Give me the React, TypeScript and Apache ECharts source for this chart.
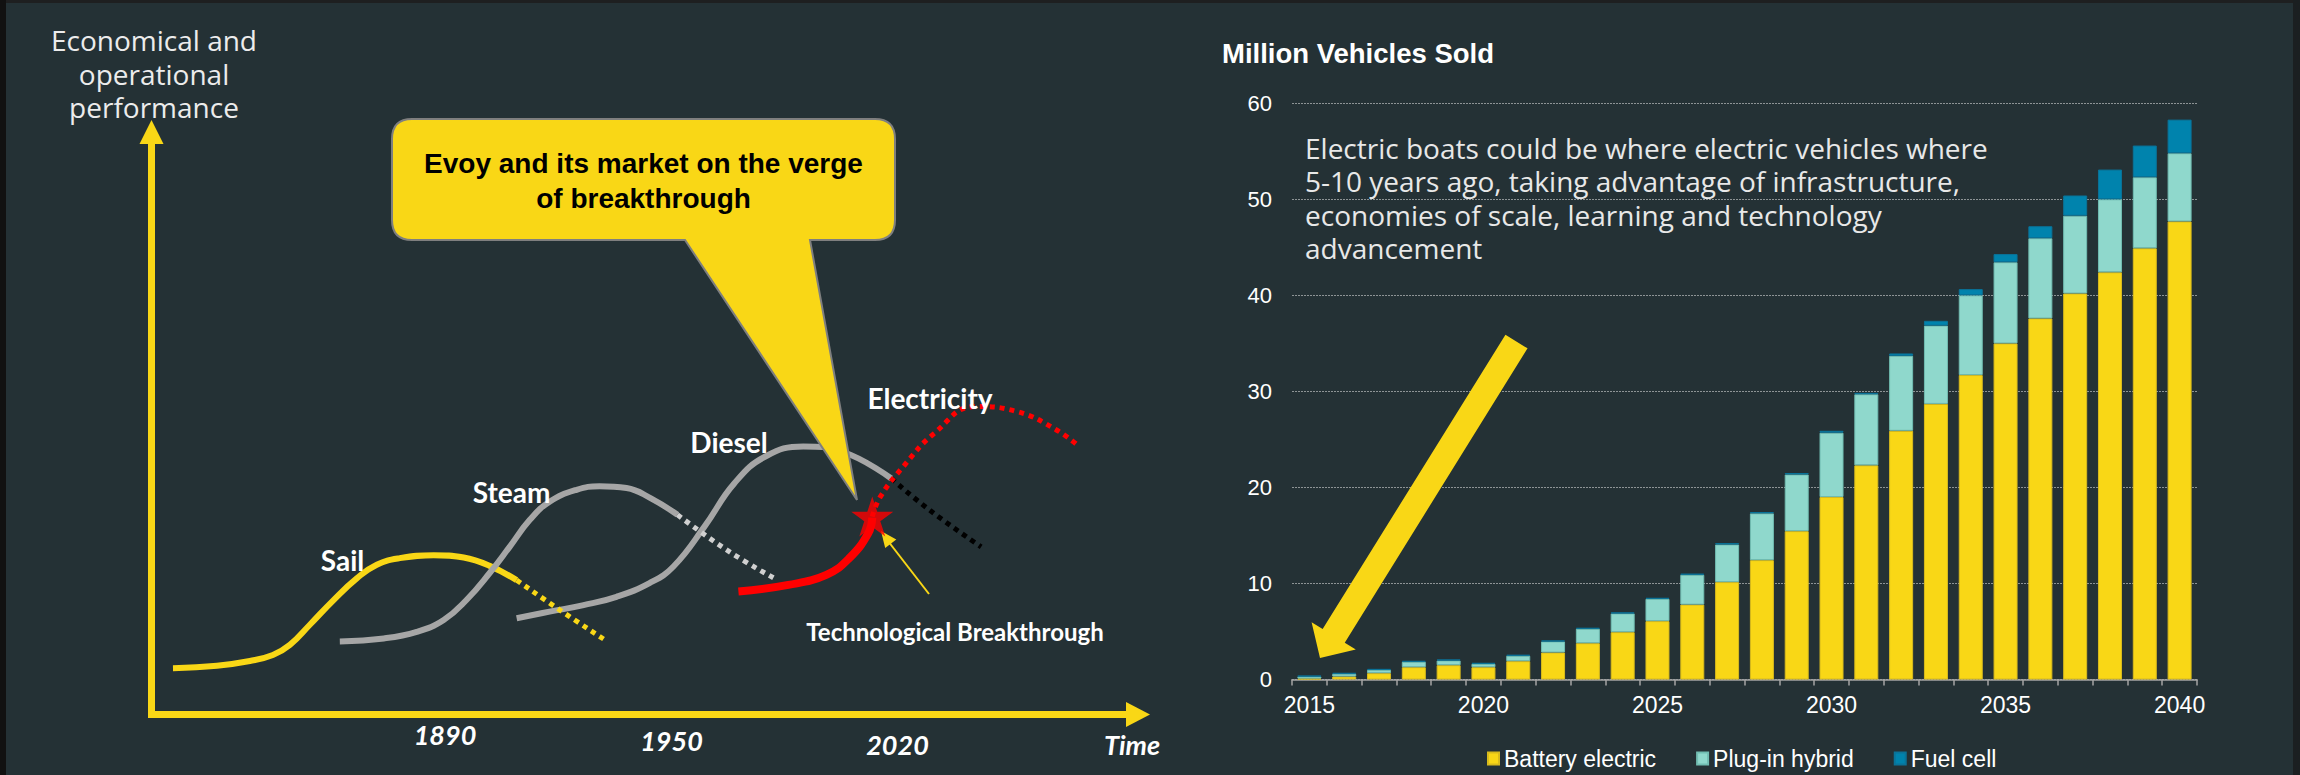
import React, { useEffect, useRef } from 'react';
import * as echarts from 'echarts';

// ---------- Right chart data (million vehicles sold) ----------
const years = ['2015', '2016', '2017', '2018', '2019', '2020', '2021', '2022', '2023', '2024', '2025', '2026', '2027', '2028', '2029', '2030', '2031', '2032', '2033', '2034', '2035', '2036', '2037', '2038', '2039', '2040'];
const batteryElectric = [0.1, 0.31, 0.66, 1.28, 1.49, 1.28, 1.91, 2.81, 3.78, 4.93, 6.08, 7.8, 10.14, 12.43, 15.45, 19.0, 22.3, 25.9, 28.7, 31.7, 35.0, 37.6, 40.2, 42.4, 44.9, 47.7];
const plugInHybrid = [0.22, 0.28, 0.34, 0.56, 0.49, 0.35, 0.56, 1.15, 1.5, 1.95, 2.32, 3.1, 3.92, 4.87, 5.9, 6.7, 7.4, 7.8, 8.15, 8.3, 8.45, 8.35, 8.1, 7.6, 7.4, 7.1];
const fuelCell = [0.07, 0.1, 0.1, 0.1, 0.1, 0.1, 0.1, 0.1, 0.1, 0.1, 0.1, 0.12, 0.14, 0.14, 0.15, 0.2, 0.15, 0.25, 0.5, 0.65, 0.85, 1.25, 2.1, 3.1, 3.3, 3.5];
const yMin = 0;
const yMax = 60;
const yStep = 10;

// ---------- Left chart: conceptual S-curves (time 0-100, performance 0-100) ----------
const sailSolid = [[2.2, 7.8], [6.6, 8.2], [9.9, 9.0], [12.2, 10.0], [13.9, 11.7], [15.9, 15.1], [18.3, 19.3], [20.6, 22.9], [22.6, 25.2], [24.9, 26.3], [28.3, 26.8], [31.3, 26.4], [33.9, 25.0], [36.6, 22.6]];
const sailFading = [[36.6, 22.6], [40.9, 17.6], [45.3, 12.7]];
const steamSolid = [[18.9, 12.3], [23.3, 12.8], [26.6, 13.9], [29.3, 15.9], [31.6, 19.3], [33.9, 23.8], [35.9, 28.2], [37.9, 32.7], [39.9, 35.8], [42.6, 37.8], [44.9, 38.4], [47.6, 38.1], [50.0, 36.4], [52.7, 33.6]];
const steamFading = [[52.7, 33.6], [57.7, 27.6], [62.3, 23.0]];
const dieselSolid = [[36.6, 16.2], [39.9, 17.3], [43.3, 18.4], [46.6, 19.8], [49.9, 22.1], [52.3, 24.9], [55.4, 31.6], [58.4, 38.9], [61.5, 43.4], [65.3, 45.1], [69.2, 44.2], [74.1, 39.7]];
const dieselFading = [[74.1, 39.7], [78.0, 34.3], [83.1, 28.2]];
const electricSolid = [[58.8, 20.7], [63.8, 21.8], [67.6, 23.5], [69.9, 26.3], [71.8, 30.5], [72.2, 33.1]];
const electricProjected = [[72.2, 33.3], [73.0, 36.6], [75.3, 41.7], [78.4, 47.3], [82.5, 51.8], [86.8, 50.9], [90.6, 47.9], [92.9, 45.1]];
const breakthroughPoint = [[72.2, 33.3]];

const YELLOW = '#F9D716';
const TEAL = '#8FD8CC';
const BLUE = '#0083AD';
const GREY = '#a6a6a6';

const calloutPath =
  'M412 119 L875 119 Q895 119 895 139 L895 220 Q895 240 875 240 L810 240 L857 500 L685 240 L412 240 Q392 240 392 220 L392 139 Q392 119 412 119 Z';
try {
  echarts.graphic.registerShape('callout', echarts.graphic.extendPath(calloutPath, {}));
} catch (e) {
  /* already registered */
}

const starPath =
  'path://M50 0 L61.23 34.55 L97.55 34.55 L68.16 55.9 L79.39 90.45 L50 69.1 L20.61 90.45 L31.84 55.9 L2.45 34.55 L38.77 34.55 Z';

function leftLine(name: string, data: number[][], color: string, width: number, dashed: boolean, z = 3) {
  return {
    name,
    type: 'line',
    xAxisIndex: 0,
    yAxisIndex: 0,
    data,
    smooth: 0.45,
    showSymbol: false,
    symbol: 'none',
    silent: true,
    z,
    lineStyle: { color, width, type: dashed ? [5, 5] : 'solid', cap: 'butt' },
  };
}

function txt(text: string, x: number, y: number, font: string, fill = '#ffffff', align = 'center', extra: any = {}) {
  return {
    type: 'text',
    x,
    y,
    z: 12,
    silent: true,
    style: { text, font, fill, align, verticalAlign: 'middle', ...extra },
  };
}

export default function App() {
  const ref = useRef<HTMLDivElement>(null);

  useEffect(() => {
    if (!ref.current) return;
    const chart = echarts.init(ref.current, null, { renderer: 'svg', width: 2300, height: 775 });

    const graphics: any[] = [
      // frame strips
      { type: 'rect', shape: { x: 0, y: 0, width: 2300, height: 3 }, style: { fill: '#1e1f20' }, z: 50, silent: true },
      { type: 'rect', shape: { x: 0, y: 0, width: 6, height: 775 }, style: { fill: '#111111' }, z: 50, silent: true },
      { type: 'rect', shape: { x: 2293, y: 0, width: 7, height: 775 }, style: { fill: '#1b1f21' }, z: 50, silent: true },
      // left axes
      { type: 'rect', shape: { x: 148, y: 141, width: 7, height: 577 }, style: { fill: YELLOW }, z: 5, silent: true },
      { type: 'polygon', shape: { points: [[151.5, 120], [139.5, 144], [163.5, 144]] }, style: { fill: YELLOW }, z: 5, silent: true },
      { type: 'rect', shape: { x: 148, y: 711, width: 980, height: 7 }, style: { fill: YELLOW }, z: 5, silent: true },
      { type: 'polygon', shape: { points: [[1150, 714.5], [1126, 702], [1126, 727]] }, style: { fill: YELLOW }, z: 5, silent: true },
      // left y title
      {
        type: 'text', x: 154, y: 23.5, z: 12, silent: true,
        style: { text: 'Economical and\noperational\nperformance', font: '28px "Open Sans"', fill: '#ececec', align: 'center', verticalAlign: 'top', lineHeight: 33.5 },
      },
      // time labels
      txt('1890', 445, 734, 'italic bold 27px Lato'),
      txt('1950', 671.5, 740, 'italic bold 27px Lato'),
      txt('2020', 897.5, 744, 'italic bold 27px Lato'),
      txt('Time', 1132, 744, 'italic bold 27px Lato'),
      // curve labels
      txt('Sail', 342.5, 560, 'bold 28px Lato'),
      txt('Steam', 511.5, 492, 'bold 28px Lato'),
      txt('Diesel', 729, 442, 'bold 28px Lato'),
      txt('Electricity', 930, 398, 'bold 28px Lato'),
      txt('Technological Breakthrough', 955, 631, 'bold 24px Lato'),
      // breakthrough pointer
      { type: 'line', shape: { x1: 929, y1: 594, x2: 888, y2: 541 }, style: { stroke: YELLOW, lineWidth: 2 }, z: 12, silent: true },
      { type: 'polygon', shape: { points: [[881, 531], [896.3, 539.4], [885.2, 548]] }, style: { fill: YELLOW }, z: 12, silent: true },
      // callout
      { type: 'callout', x: 0, y: 0, z: 10, silent: true, style: { fill: YELLOW, stroke: '#7f7f7f', lineWidth: 2 } },
      {
        type: 'text', x: 643.5, y: 145.5, z: 12, silent: true,
        style: { text: 'Evoy and its market on the verge\nof breakthrough', font: 'bold 28px "Liberation Sans"', fill: '#000000', align: 'center', verticalAlign: 'top', lineHeight: 35 },
      },
      // right title
      txt('Million Vehicles Sold', 1222, 53, 'bold 27.5px "Liberation Sans"', '#ffffff', 'left'),
      // right annotation
      {
        type: 'text', x: 1305, y: 131, z: 12, silent: true,
        style: {
          text: 'Electric boats could be where electric vehicles where\n5-10 years ago, taking advantage of infrastructure,\neconomies of scale, learning and technology\nadvancement',
          font: '28px "Open Sans"', fill: '#e8e8e8', align: 'left', verticalAlign: 'top', lineHeight: 33.5,
        },
      },
      // big arrow
      {
        type: 'polygon', z: 10, silent: true,
        shape: { points: [[1320, 658], [1355.8, 649.6], [1344.75, 642.74], [1527.55, 348.34], [1505.45, 334.66], [1322.65, 629.06], [1311.6, 622.2]] },
        style: { fill: YELLOW },
      },
    ];

    const option: any = {
      animation: false,
      backgroundColor: '#243135',
      textStyle: { fontFamily: '"Liberation Sans", Arial, sans-serif' },
      grid: [
        { left: 151, top: 120, width: 999, height: 594.5 },
        { left: 1292, top: 103.3, width: 905, height: 576.2 },
      ],
      xAxis: [
        { gridIndex: 0, type: 'value', min: 0, max: 100, show: false },
        {
          gridIndex: 1, type: 'category', data: years,
          axisLine: { show: true, lineStyle: { color: '#a5a5a5', width: 1.5 } },
          axisTick: { show: true, interval: 0, length: 6, lineStyle: { color: '#a5a5a5', width: 1.5 } },
          axisLabel: { interval: 4, color: '#ffffff', fontSize: 23, margin: 14, fontFamily: '"Liberation Sans", Arial' },
        },
      ],
      yAxis: [
        { gridIndex: 0, type: 'value', min: 0, max: 100, show: false },
        {
          gridIndex: 1, type: 'value', min: yMin, max: yMax, interval: yStep,
          axisLine: { show: false }, axisTick: { show: false },
          axisLabel: { color: '#ffffff', fontSize: 22, margin: 20, fontFamily: '"Liberation Sans", Arial' },
          splitLine: { lineStyle: { color: '#8d9395', width: 1, type: [2, 1] } },
        },
      ],
      legend: {
        data: ['Battery electric', 'Plug-in hybrid', 'Fuel cell'],
        left: 1482, top: 742, itemWidth: 11, itemHeight: 12, itemGap: 40, icon: 'rect',
        textStyle: { color: '#ffffff', fontSize: 23, fontFamily: '"Liberation Sans", Arial' },
      },
      series: [
        leftLine('Sail', sailSolid, YELLOW, 6, false, 3),
        leftLine('Sail fading', sailFading, YELLOW, 5, true, 4),
        leftLine('Steam', steamSolid, GREY, 6, false, 3),
        leftLine('Steam fading', steamFading, '#d0d0d0', 5, true, 4),
        leftLine('Diesel', dieselSolid, GREY, 6, false, 3),
        leftLine('Diesel fading', dieselFading, '#000000', 5, true, 4),
        leftLine('Electricity', electricSolid, '#ff0000', 8, false, 5),
        leftLine('Electricity projected', electricProjected, '#ff0000', 5, true, 5),
        {
          name: 'Breakthrough', type: 'scatter', xAxisIndex: 0, yAxisIndex: 0, data: breakthroughPoint,
          symbol: starPath, symbolSize: [42, 40], itemStyle: { color: '#ff0000' }, z: 20, silent: true,
        },
        {
          name: 'Battery electric', type: 'bar', xAxisIndex: 1, yAxisIndex: 1, stack: 'ev', data: batteryElectric,
          barWidth: 24, itemStyle: { color: YELLOW, borderColor: '#d9bb1c', borderWidth: 1 },
        },
        {
          name: 'Plug-in hybrid', type: 'bar', xAxisIndex: 1, yAxisIndex: 1, stack: 'ev', data: plugInHybrid,
          barWidth: 24, itemStyle: { color: TEAL, borderColor: '#71bdb2', borderWidth: 1 },
        },
        {
          name: 'Fuel cell', type: 'bar', xAxisIndex: 1, yAxisIndex: 1, stack: 'ev', data: fuelCell,
          barWidth: 24, itemStyle: { color: BLUE, borderColor: '#0a7399', borderWidth: 1 },
        },
      ],
      graphic: graphics,
    };

    chart.setOption(option);
    return () => chart.dispose();
  }, []);

  return <div ref={ref} style={{ position: 'absolute', left: 0, top: 0, width: 2300, height: 775 }} />;
}
